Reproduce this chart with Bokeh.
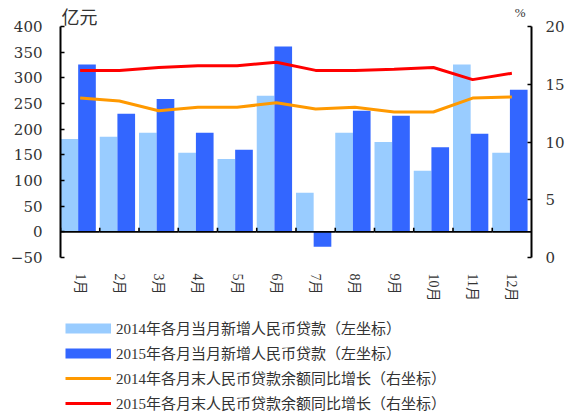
from bokeh.plotting import figure
from bokeh.models import (LinearAxis, Range1d, FixedTicker, Legend,
                          LegendItem, Label, ColumnDataSource)
from bokeh.embed import file_html
from bokeh.resources import INLINE

months = ["1月", "2月", "3月", "4月", "5月", "6月", "7月", "8月", "9月", "10月", "11月", "12月"]
loans_2014 = [181, 185, 193, 154, 142, 265, 76, 193, 175, 119, 326, 154]
loans_2015 = [326, 230, 259, 193, 160, 361, -29, 236, 226, 165, 191, 277]
growth_2014 = [13.8, 13.55, 12.7, 13.0, 13.0, 13.4, 12.85, 13.0, 12.6, 12.6, 13.8, 13.9]
growth_2015 = [16.2, 16.2, 16.45, 16.6, 16.6, 16.9, 16.2, 16.2, 16.3, 16.45, 15.4, 15.95]
left_ticks = [-50, 0, 50, 100, 150, 200, 250, 300, 350, 400]
right_ticks = [0, 5, 10, 15, 20]

n = len(months)
idx = list(range(n))
TICK_FONT = "DejaVu Serif"
CJK_FONT = "Liberation Serif, Noto Sans CJK SC"
TXT = "#333333"
NAN = float("nan")

# geometry (pixels): axes area spans y 26..257, frame extended to host legend/labels
W, H = 569, 414
LEFT_AX, RIGHT_AX = 60, 531
TOP_AX, BOT_AX = 26, 257
FRAME_TOP = 4
L_MIN, L_MAX = -50, 400
R_MIN, R_MAX = 0, 20
ax_px = BOT_AX - TOP_AX
l_per_px = (L_MAX - L_MIN) / ax_px
r_per_px = (R_MAX - R_MIN) / ax_px
x_per_px = n / (RIGHT_AX - LEFT_AX)
l_range = Range1d(L_MIN - (H - BOT_AX) * l_per_px, L_MAX + (TOP_AX - FRAME_TOP) * l_per_px)
r_range = Range1d(R_MIN - (H - BOT_AX) * r_per_px, R_MAX + (TOP_AX - FRAME_TOP) * r_per_px)

p = figure(width=W, height=H, x_range=Range1d(0, n), y_range=l_range,
           output_backend="svg", toolbar_location=None,
           min_border_left=LEFT_AX, min_border_right=W - RIGHT_AX,
           min_border_top=FRAME_TOP, min_border_bottom=0)
p.outline_line_color = None
p.xgrid.visible = False
p.ygrid.visible = False
p.background_fill_color = "white"
p.extra_y_ranges = {"right": r_range}

src = ColumnDataSource(dict(
    x14=[i + 0.225 for i in idx], x15=[i + 0.675 for i in idx], xc=[i + 0.5 for i in idx],
    xl=[float(i) for i in idx],
    b14=loans_2014, b15=loans_2015, g14=growth_2014, g15=growth_2015,
    z_top=[0.8 * l_per_px] * n, z_bot=[-0.8 * l_per_px] * n,
    t_top=[4 * l_per_px] * n, t_bot=[0.0] * n))

p.vbar(x="x14", top="b14", bottom=0, width=0.45, source=src, fill_color="#99CCFF", line_color=None)
p.vbar(x="x15", top="b15", bottom=0, width=0.45, source=src, fill_color="#3366FF", line_color=None)

# category axis at zero: a thin band per month plus short upward ticks at month boundaries
p.vbar(x="xc", top="z_top", bottom="z_bot", width=1.0, source=src,
       fill_color="#000000", line_color=None)
p.vbar(x="xl", top="t_top", bottom="t_bot", width=1.6 * x_per_px, source=src,
       fill_color="#000000", line_color=None)

r14 = p.line(x="xc", y="g14", source=src, line_color="#FF9900", line_width=3, y_range_name="right")
r15 = p.line(x="xc", y="g15", source=src, line_color="#FF0000", line_width=3, y_range_name="right")

# x axis (month labels) fixed at the bottom of the value axes
xa = p.xaxis[0]
xa.fixed_location = L_MIN
xa.ticker = FixedTicker(ticks=[i + 0.5 for i in idx])
xa.major_label_overrides = {i + 0.5: m for i, m in enumerate(months)}
xa.axis_line_color = None
xa.major_tick_line_color = None
xa.minor_tick_line_color = None
xa.major_tick_out = 0
xa.major_tick_in = 0
xa.major_label_orientation = "vertical"
xa.major_label_standoff = 16
xa.major_label_text_font = CJK_FONT
xa.major_label_text_font_size = "14px"
xa.major_label_text_color = TXT

# left axis
ya = p.yaxis[0]
ya.ticker = FixedTicker(ticks=left_ticks)
ya.bounds = (L_MIN, L_MAX)
ya.axis_line_color = "black"
ya.axis_line_width = 2
ya.major_tick_in = 4
ya.major_tick_out = 0
ya.major_tick_line_width = 1.5
ya.minor_tick_line_color = None
ya.major_label_standoff = 18
ya.major_label_text_font = TICK_FONT
ya.major_label_text_font_size = "15px"
ya.major_label_text_color = TXT

ra = LinearAxis(y_range_name="right", ticker=FixedTicker(ticks=right_ticks))
ra.bounds = (R_MIN, R_MAX)
ra.axis_line_color = "black"
ra.axis_line_width = 2
ra.major_tick_in = 4
ra.major_tick_out = 0
ra.major_tick_line_width = 1.5
ra.minor_tick_line_color = None
ra.major_label_standoff = 14
ra.major_label_text_font = TICK_FONT
ra.major_label_text_font_size = "15px"
ra.major_label_text_color = TXT
p.add_layout(ra, "right")

p.add_layout(Label(x=0, y=L_MAX, text="亿元", x_offset=1, y_offset=-1, text_baseline="bottom",
                   text_font=CJK_FONT, text_font_size="18px", text_color=TXT))
p.add_layout(Label(x=n, y=L_MAX, text="%", x_offset=-6, y_offset=7, text_align="right",
                   text_baseline="bottom", text_font="Liberation Serif", text_font_size="13px",
                   text_color=TXT))

# legend swatches for the bar series (wide line swatches like the reference)
l1 = p.line(x=[NAN], y=[NAN], line_color="#99CCFF", line_width=10, line_cap="butt")
l2 = p.line(x=[NAN], y=[NAN], line_color="#3366FF", line_width=10, line_cap="butt")
legend = Legend(items=[
    LegendItem(label="2014年各月当月新增人民币贷款（左坐标）", renderers=[l1]),
    LegendItem(label="2015年各月当月新增人民币贷款（左坐标）", renderers=[l2]),
    LegendItem(label="2014年各月末人民币贷款余额同比增长（右坐标）", renderers=[r14]),
    LegendItem(label="2015年各月末人民币贷款余额同比增长（右坐标）", renderers=[r15]),
], location=(5, 1), orientation="vertical", glyph_width=46, glyph_height=20,
   label_height=20, spacing=4, label_standoff=5, padding=0, margin=0,
   border_line_color=None, background_fill_alpha=0,
   label_text_font=CJK_FONT, label_text_font_size="15px", label_text_color=TXT)
p.add_layout(legend, "center")

open("out.html", "w").write(file_html(p, INLINE))
